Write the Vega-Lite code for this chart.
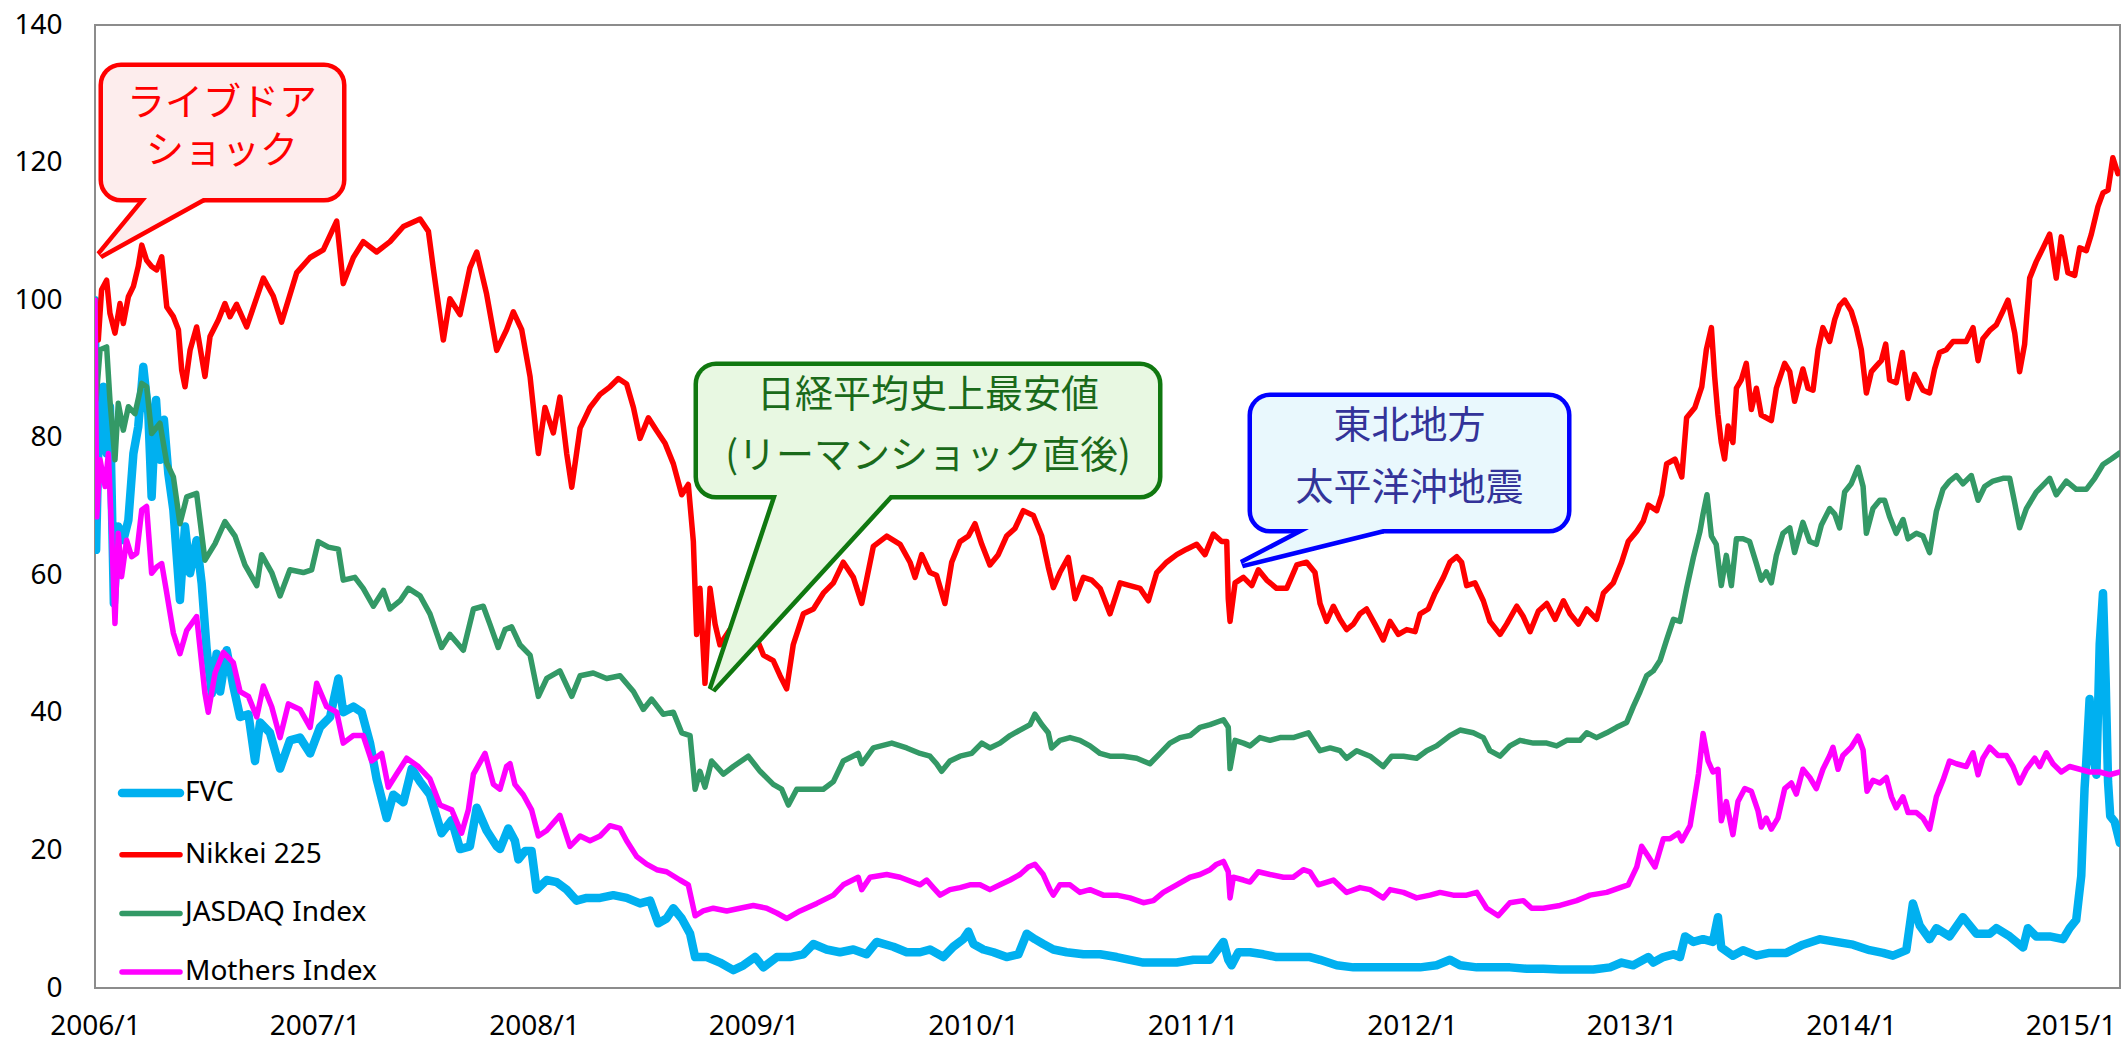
{
"$schema":"https://vega.github.io/schema/vega-lite/v6.json",
"autosize":{"type":"none"},
"padding":{"left":95,"top":25,"right":3,"bottom":60},
"width":2025,"height":963,
"background":"white",
"config":{"view":{"stroke":"#8c8c8c","strokeWidth":2},"legend":{"symbolSize":100,"labelLimit":0,"labelFontSize":28,"labelFont":"Noto Sans","labelColor":"#000000","rowPadding":30.7,"padding":0}},
"datasets":{
"fvc":[{"t":2006.0,"v":100},{"t":2006.005,"v":63.7},{"t":2006.02,"v":85.5},{"t":2006.038,"v":87.4},{"t":2006.053,"v":77.7},{"t":2006.068,"v":84.5},{"t":2006.086,"v":55.9},{"t":2006.106,"v":67.1},{"t":2006.129,"v":65.1},{"t":2006.152,"v":68.0},{"t":2006.175,"v":77.7},{"t":2006.197,"v":81.6},{"t":2006.22,"v":90.3},{"t":2006.243,"v":83.5},{"t":2006.258,"v":71.4},{"t":2006.278,"v":85.5},{"t":2006.296,"v":76.8},{"t":2006.314,"v":82.6},{"t":2006.334,"v":74.8},{"t":2006.357,"v":69.5},{"t":2006.387,"v":56.4},{"t":2006.41,"v":67.1},{"t":2006.433,"v":60.3},{"t":2006.463,"v":65.1},{"t":2006.486,"v":58.8},{"t":2006.509,"v":49.1},{"t":2006.532,"v":42.8},{"t":2006.554,"v":48.6},{"t":2006.57,"v":43.1},{"t":2006.6,"v":49.1},{"t":2006.63,"v":43.9},{"t":2006.661,"v":39.4},{"t":2006.699,"v":39.8},{"t":2006.729,"v":33.0},{"t":2006.752,"v":38.6},{"t":2006.797,"v":37.1},{"t":2006.843,"v":31.9},{"t":2006.888,"v":36.0},{"t":2006.934,"v":36.4},{"t":2006.98,"v":34.1},{"t":2007.025,"v":37.9},{"t":2007.071,"v":39.4},{"t":2007.109,"v":45.0},{"t":2007.131,"v":40.1},{"t":2007.177,"v":40.9},{"t":2007.215,"v":40.1},{"t":2007.253,"v":35.6},{"t":2007.283,"v":30.4},{"t":2007.329,"v":24.7},{"t":2007.359,"v":28.1},{"t":2007.405,"v":27.0},{"t":2007.443,"v":31.9},{"t":2007.481,"v":30.0},{"t":2007.526,"v":28.1},{"t":2007.579,"v":22.5},{"t":2007.625,"v":24.4},{"t":2007.663,"v":20.2},{"t":2007.708,"v":20.6},{"t":2007.739,"v":26.2},{"t":2007.784,"v":22.9},{"t":2007.83,"v":20.6},{"t":2007.845,"v":20.2},{"t":2007.883,"v":23.2},{"t":2007.913,"v":21.4},{"t":2007.929,"v":18.7},{"t":2007.959,"v":19.9},{"t":2007.989,"v":19.9},{"t":2008.012,"v":14.3},{"t":2008.058,"v":15.7},{"t":2008.103,"v":15.4},{"t":2008.149,"v":14.3},{"t":2008.194,"v":12.7},{"t":2008.24,"v":13.1},{"t":2008.301,"v":13.1},{"t":2008.361,"v":13.5},{"t":2008.422,"v":13.1},{"t":2008.483,"v":12.3},{"t":2008.529,"v":12.7},{"t":2008.566,"v":9.4},{"t":2008.604,"v":10.1},{"t":2008.635,"v":11.6},{"t":2008.673,"v":10.1},{"t":2008.711,"v":7.9},{"t":2008.734,"v":4.5},{"t":2008.787,"v":4.5},{"t":2008.847,"v":3.7},{"t":2008.908,"v":2.6},{"t":2008.954,"v":3.3},{"t":2009.007,"v":4.5},{"t":2009.045,"v":3.0},{"t":2009.106,"v":4.5},{"t":2009.166,"v":4.5},{"t":2009.227,"v":4.9},{"t":2009.273,"v":6.4},{"t":2009.333,"v":5.6},{"t":2009.394,"v":5.2},{"t":2009.455,"v":5.6},{"t":2009.515,"v":4.9},{"t":2009.561,"v":6.7},{"t":2009.637,"v":6.0},{"t":2009.698,"v":5.2},{"t":2009.759,"v":5.2},{"t":2009.804,"v":5.6},{"t":2009.865,"v":4.5},{"t":2009.91,"v":6.0},{"t":2009.956,"v":7.1},{"t":2009.979,"v":8.2},{"t":2010.002,"v":6.4},{"t":2010.047,"v":5.6},{"t":2010.093,"v":5.2},{"t":2010.153,"v":4.5},{"t":2010.207,"v":4.9},{"t":2010.245,"v":7.9},{"t":2010.282,"v":7.1},{"t":2010.32,"v":6.4},{"t":2010.366,"v":5.6},{"t":2010.427,"v":5.2},{"t":2010.503,"v":4.9},{"t":2010.579,"v":4.9},{"t":2010.655,"v":4.5},{"t":2010.715,"v":4.1},{"t":2010.776,"v":3.7},{"t":2010.852,"v":3.7},{"t":2010.928,"v":3.7},{"t":2011.004,"v":4.1},{"t":2011.08,"v":4.1},{"t":2011.141,"v":6.7},{"t":2011.163,"v":4.1},{"t":2011.178,"v":3.3},{"t":2011.209,"v":5.2},{"t":2011.262,"v":5.2},{"t":2011.323,"v":4.9},{"t":2011.383,"v":4.5},{"t":2011.459,"v":4.5},{"t":2011.535,"v":4.5},{"t":2011.581,"v":4.1},{"t":2011.657,"v":3.3},{"t":2011.733,"v":3.0},{"t":2011.809,"v":3.0},{"t":2011.885,"v":3.0},{"t":2011.961,"v":3.0},{"t":2012.037,"v":3.0},{"t":2012.112,"v":3.3},{"t":2012.173,"v":4.1},{"t":2012.219,"v":3.3},{"t":2012.295,"v":3.0},{"t":2012.371,"v":3.0},{"t":2012.446,"v":3.0},{"t":2012.522,"v":2.8},{"t":2012.598,"v":2.8},{"t":2012.674,"v":2.7},{"t":2012.75,"v":2.7},{"t":2012.826,"v":2.7},{"t":2012.902,"v":3.0},{"t":2012.955,"v":3.7},{"t":2013.008,"v":3.3},{"t":2013.077,"v":4.5},{"t":2013.099,"v":3.7},{"t":2013.145,"v":4.5},{"t":2013.191,"v":4.9},{"t":2013.221,"v":4.5},{"t":2013.244,"v":7.5},{"t":2013.282,"v":6.7},{"t":2013.326,"v":7.1},{"t":2013.371,"v":6.7},{"t":2013.394,"v":10.3},{"t":2013.409,"v":5.9},{"t":2013.462,"v":4.7},{"t":2013.508,"v":5.5},{"t":2013.569,"v":4.7},{"t":2013.629,"v":5.1},{"t":2013.705,"v":5.1},{"t":2013.781,"v":6.3},{"t":2013.857,"v":7.1},{"t":2013.933,"v":6.7},{"t":2014.009,"v":6.3},{"t":2014.085,"v":5.5},{"t":2014.146,"v":5.1},{"t":2014.191,"v":4.7},{"t":2014.252,"v":5.5},{"t":2014.282,"v":12.3},{"t":2014.313,"v":9.1},{"t":2014.358,"v":7.1},{"t":2014.389,"v":8.7},{"t":2014.449,"v":7.5},{"t":2014.51,"v":10.3},{"t":2014.571,"v":7.9},{"t":2014.632,"v":7.9},{"t":2014.662,"v":8.7},{"t":2014.723,"v":7.5},{"t":2014.784,"v":5.9},{"t":2014.806,"v":8.7},{"t":2014.844,"v":7.5},{"t":2014.905,"v":7.5},{"t":2014.966,"v":7.1},{"t":2014.996,"v":8.7},{"t":2015.026,"v":9.9},{"t":2015.049,"v":16.3},{"t":2015.064,"v":29.0},{"t":2015.072,"v":33.0},{"t":2015.087,"v":42.0},{"t":2015.102,"v":34.0},{"t":2015.118,"v":31.0},{"t":2015.133,"v":50.0},{"t":2015.148,"v":57.4},{"t":2015.16,"v":45.0},{"t":2015.171,"v":30.0},{"t":2015.181,"v":25.0},{"t":2015.201,"v":24.2},{"t":2015.225,"v":21.1}],
"nikkei":[{"t":2006.0,"v":100},{"t":2006.015,"v":94.2},{"t":2006.03,"v":101.5},{"t":2006.053,"v":102.9},{"t":2006.068,"v":98.1},{"t":2006.091,"v":95.2},{"t":2006.114,"v":99.5},{"t":2006.129,"v":96.6},{"t":2006.152,"v":100.5},{"t":2006.175,"v":102.0},{"t":2006.197,"v":104.9},{"t":2006.213,"v":108.0},{"t":2006.235,"v":105.8},{"t":2006.258,"v":104.9},{"t":2006.281,"v":104.4},{"t":2006.304,"v":106.3},{"t":2006.327,"v":99.0},{"t":2006.357,"v":97.6},{"t":2006.38,"v":95.7},{"t":2006.395,"v":89.8},{"t":2006.41,"v":87.4},{"t":2006.433,"v":92.7},{"t":2006.463,"v":96.1},{"t":2006.501,"v":88.9},{"t":2006.524,"v":94.7},{"t":2006.562,"v":97.1},{"t":2006.592,"v":99.5},{"t":2006.615,"v":97.6},{"t":2006.645,"v":99.4},{"t":2006.691,"v":96.1},{"t":2006.767,"v":103.2},{"t":2006.812,"v":100.6},{"t":2006.85,"v":96.8},{"t":2006.919,"v":104.0},{"t":2006.98,"v":106.2},{"t":2007.04,"v":107.3},{"t":2007.101,"v":111.5},{"t":2007.131,"v":102.4},{"t":2007.177,"v":106.2},{"t":2007.222,"v":108.5},{"t":2007.283,"v":107.0},{"t":2007.344,"v":108.5},{"t":2007.405,"v":110.7},{"t":2007.481,"v":111.8},{"t":2007.519,"v":110.0},{"t":2007.541,"v":104.7},{"t":2007.587,"v":94.2},{"t":2007.617,"v":100.2},{"t":2007.663,"v":97.9},{"t":2007.708,"v":104.7},{"t":2007.739,"v":107.0},{"t":2007.784,"v":100.9},{"t":2007.83,"v":92.7},{"t":2007.875,"v":95.7},{"t":2007.906,"v":98.3},{"t":2007.944,"v":95.7},{"t":2007.982,"v":88.9},{"t":2008.012,"v":79.9},{"t":2008.02,"v":77.7},{"t":2008.05,"v":84.4},{"t":2008.088,"v":80.7},{"t":2008.118,"v":85.9},{"t":2008.149,"v":77.7},{"t":2008.172,"v":72.8},{"t":2008.21,"v":81.4},{"t":2008.255,"v":84.4},{"t":2008.301,"v":86.3},{"t":2008.346,"v":87.4},{"t":2008.384,"v":88.6},{"t":2008.422,"v":87.8},{"t":2008.453,"v":84.4},{"t":2008.483,"v":79.9},{"t":2008.521,"v":82.9},{"t":2008.559,"v":81.0},{"t":2008.597,"v":79.2},{"t":2008.635,"v":76.2},{"t":2008.673,"v":71.7},{"t":2008.703,"v":73.2},{"t":2008.726,"v":64.9},{"t":2008.741,"v":51.4},{"t":2008.756,"v":58.1},{"t":2008.779,"v":44.3},{"t":2008.802,"v":58.1},{"t":2008.825,"v":52.9},{"t":2008.847,"v":49.9},{"t":2008.893,"v":52.1},{"t":2008.938,"v":52.9},{"t":2008.976,"v":56.6},{"t":2009.007,"v":51.4},{"t":2009.045,"v":48.4},{"t":2009.09,"v":47.6},{"t":2009.121,"v":45.4},{"t":2009.151,"v":43.5},{"t":2009.181,"v":49.9},{"t":2009.227,"v":54.4},{"t":2009.273,"v":55.1},{"t":2009.318,"v":57.4},{"t":2009.364,"v":58.9},{"t":2009.409,"v":61.9},{"t":2009.455,"v":59.7},{"t":2009.493,"v":55.9},{"t":2009.546,"v":64.2},{"t":2009.607,"v":65.7},{"t":2009.668,"v":64.5},{"t":2009.713,"v":61.9},{"t":2009.736,"v":59.7},{"t":2009.766,"v":63.0},{"t":2009.804,"v":60.4},{"t":2009.834,"v":60.0},{"t":2009.872,"v":55.9},{"t":2009.903,"v":61.9},{"t":2009.941,"v":64.9},{"t":2009.979,"v":65.7},{"t":2010.009,"v":67.5},{"t":2010.04,"v":64.5},{"t":2010.077,"v":61.5},{"t":2010.115,"v":63.0},{"t":2010.153,"v":65.7},{"t":2010.191,"v":66.8},{"t":2010.229,"v":69.4},{"t":2010.275,"v":68.7},{"t":2010.313,"v":65.7},{"t":2010.343,"v":61.2},{"t":2010.366,"v":58.2},{"t":2010.396,"v":60.4},{"t":2010.434,"v":62.6},{"t":2010.465,"v":56.6},{"t":2010.503,"v":59.7},{"t":2010.541,"v":59.3},{"t":2010.579,"v":58.1},{"t":2010.624,"v":54.4},{"t":2010.67,"v":58.9},{"t":2010.715,"v":58.5},{"t":2010.761,"v":58.1},{"t":2010.799,"v":56.3},{"t":2010.837,"v":60.4},{"t":2010.882,"v":61.9},{"t":2010.928,"v":63.0},{"t":2010.973,"v":63.8},{"t":2011.019,"v":64.5},{"t":2011.057,"v":63.0},{"t":2011.095,"v":66.0},{"t":2011.133,"v":64.9},{"t":2011.156,"v":64.9},{"t":2011.163,"v":56.6},{"t":2011.171,"v":53.3},{"t":2011.194,"v":58.9},{"t":2011.232,"v":59.7},{"t":2011.27,"v":58.5},{"t":2011.3,"v":60.8},{"t":2011.338,"v":59.3},{"t":2011.383,"v":58.1},{"t":2011.429,"v":58.1},{"t":2011.475,"v":61.5},{"t":2011.52,"v":61.9},{"t":2011.558,"v":60.4},{"t":2011.581,"v":55.9},{"t":2011.611,"v":53.3},{"t":2011.642,"v":55.5},{"t":2011.672,"v":53.6},{"t":2011.702,"v":52.1},{"t":2011.733,"v":52.9},{"t":2011.763,"v":54.4},{"t":2011.793,"v":55.1},{"t":2011.831,"v":52.9},{"t":2011.869,"v":50.6},{"t":2011.9,"v":53.3},{"t":2011.938,"v":51.4},{"t":2011.976,"v":52.1},{"t":2012.014,"v":51.8},{"t":2012.037,"v":54.4},{"t":2012.074,"v":55.1},{"t":2012.105,"v":57.4},{"t":2012.143,"v":59.7},{"t":2012.173,"v":61.9},{"t":2012.204,"v":62.7},{"t":2012.226,"v":61.9},{"t":2012.249,"v":58.5},{"t":2012.287,"v":58.9},{"t":2012.325,"v":56.3},{"t":2012.355,"v":53.3},{"t":2012.401,"v":51.4},{"t":2012.431,"v":52.9},{"t":2012.477,"v":55.5},{"t":2012.507,"v":54.0},{"t":2012.538,"v":51.8},{"t":2012.576,"v":54.8},{"t":2012.614,"v":55.9},{"t":2012.652,"v":53.6},{"t":2012.69,"v":56.3},{"t":2012.72,"v":54.4},{"t":2012.758,"v":52.9},{"t":2012.796,"v":55.1},{"t":2012.841,"v":53.6},{"t":2012.872,"v":57.4},{"t":2012.917,"v":58.9},{"t":2012.955,"v":61.9},{"t":2012.985,"v":64.9},{"t":2013.024,"v":66.4},{"t":2013.054,"v":67.9},{"t":2013.077,"v":70.2},{"t":2013.115,"v":69.4},{"t":2013.138,"v":71.7},{"t":2013.16,"v":76.2},{"t":2013.198,"v":76.9},{"t":2013.229,"v":74.3},{"t":2013.251,"v":82.9},{"t":2013.289,"v":84.4},{"t":2013.32,"v":87.4},{"t":2013.341,"v":92.8},{"t":2013.364,"v":96.0},{"t":2013.379,"v":88.8},{"t":2013.394,"v":83.3},{"t":2013.409,"v":79.3},{"t":2013.424,"v":76.9},{"t":2013.44,"v":81.7},{"t":2013.462,"v":79.3},{"t":2013.478,"v":87.2},{"t":2013.5,"v":88.4},{"t":2013.523,"v":90.8},{"t":2013.546,"v":84.1},{"t":2013.569,"v":87.2},{"t":2013.591,"v":83.3},{"t":2013.614,"v":82.9},{"t":2013.637,"v":82.5},{"t":2013.66,"v":87.2},{"t":2013.698,"v":90.8},{"t":2013.721,"v":89.6},{"t":2013.743,"v":85.3},{"t":2013.781,"v":90.0},{"t":2013.804,"v":87.2},{"t":2013.827,"v":86.9},{"t":2013.85,"v":92.8},{"t":2013.872,"v":96.0},{"t":2013.903,"v":94.0},{"t":2013.926,"v":97.2},{"t":2013.948,"v":99.2},{"t":2013.971,"v":100.0},{"t":2014.001,"v":98.4},{"t":2014.024,"v":96.0},{"t":2014.047,"v":92.8},{"t":2014.07,"v":86.5},{"t":2014.093,"v":89.6},{"t":2014.115,"v":90.4},{"t":2014.138,"v":91.2},{"t":2014.158,"v":93.6},{"t":2014.176,"v":88.4},{"t":2014.206,"v":88.0},{"t":2014.234,"v":92.4},{"t":2014.26,"v":85.7},{"t":2014.29,"v":89.2},{"t":2014.328,"v":86.9},{"t":2014.358,"v":86.5},{"t":2014.381,"v":90.0},{"t":2014.404,"v":92.4},{"t":2014.434,"v":92.8},{"t":2014.465,"v":94.0},{"t":2014.495,"v":94.0},{"t":2014.525,"v":94.0},{"t":2014.556,"v":96.0},{"t":2014.579,"v":91.2},{"t":2014.601,"v":94.4},{"t":2014.632,"v":95.6},{"t":2014.662,"v":96.4},{"t":2014.692,"v":98.4},{"t":2014.715,"v":100.0},{"t":2014.746,"v":95.2},{"t":2014.768,"v":89.6},{"t":2014.791,"v":93.6},{"t":2014.814,"v":103.2},{"t":2014.844,"v":105.6},{"t":2014.875,"v":107.6},{"t":2014.905,"v":109.6},{"t":2014.935,"v":103.2},{"t":2014.958,"v":109.2},{"t":2014.988,"v":104.0},{"t":2015.019,"v":103.6},{"t":2015.042,"v":107.6},{"t":2015.072,"v":107.2},{"t":2015.095,"v":109.6},{"t":2015.125,"v":113.6},{"t":2015.148,"v":115.6},{"t":2015.171,"v":116.0},{"t":2015.193,"v":120.7},{"t":2015.216,"v":118.4},{"t":2015.225,"v":118.6}],
"jasdaq":[{"t":2006.0,"v":100},{"t":2006.005,"v":85.5},{"t":2006.023,"v":92.8},{"t":2006.053,"v":93.2},{"t":2006.068,"v":85.5},{"t":2006.091,"v":76.8},{"t":2006.106,"v":85.0},{"t":2006.129,"v":81.1},{"t":2006.152,"v":84.5},{"t":2006.182,"v":83.5},{"t":2006.213,"v":87.9},{"t":2006.235,"v":87.4},{"t":2006.258,"v":80.6},{"t":2006.296,"v":82.1},{"t":2006.327,"v":76.3},{"t":2006.357,"v":74.3},{"t":2006.387,"v":67.5},{"t":2006.418,"v":71.4},{"t":2006.463,"v":71.9},{"t":2006.501,"v":62.2},{"t":2006.547,"v":64.6},{"t":2006.592,"v":67.8},{"t":2006.638,"v":65.7},{"t":2006.683,"v":61.5},{"t":2006.737,"v":58.5},{"t":2006.759,"v":63.0},{"t":2006.805,"v":60.4},{"t":2006.843,"v":57.0},{"t":2006.888,"v":60.8},{"t":2006.949,"v":60.4},{"t":2006.987,"v":60.8},{"t":2007.017,"v":64.9},{"t":2007.063,"v":64.1},{"t":2007.109,"v":63.8},{"t":2007.131,"v":59.3},{"t":2007.184,"v":59.7},{"t":2007.222,"v":58.1},{"t":2007.268,"v":55.5},{"t":2007.314,"v":57.8},{"t":2007.344,"v":55.1},{"t":2007.39,"v":56.3},{"t":2007.428,"v":58.1},{"t":2007.481,"v":57.0},{"t":2007.526,"v":54.4},{"t":2007.579,"v":49.5},{"t":2007.617,"v":51.4},{"t":2007.678,"v":49.1},{"t":2007.724,"v":55.1},{"t":2007.769,"v":55.5},{"t":2007.799,"v":52.9},{"t":2007.837,"v":49.5},{"t":2007.868,"v":52.1},{"t":2007.898,"v":52.5},{"t":2007.936,"v":49.9},{"t":2007.982,"v":48.4},{"t":2008.02,"v":42.4},{"t":2008.058,"v":45.0},{"t":2008.118,"v":46.1},{"t":2008.172,"v":42.4},{"t":2008.21,"v":45.4},{"t":2008.27,"v":45.8},{"t":2008.331,"v":45.0},{"t":2008.392,"v":45.4},{"t":2008.453,"v":43.1},{"t":2008.498,"v":40.5},{"t":2008.536,"v":42.0},{"t":2008.589,"v":39.8},{"t":2008.635,"v":40.1},{"t":2008.673,"v":37.1},{"t":2008.711,"v":36.7},{"t":2008.734,"v":28.9},{"t":2008.756,"v":31.5},{"t":2008.779,"v":29.2},{"t":2008.809,"v":33.0},{"t":2008.863,"v":31.1},{"t":2008.908,"v":32.2},{"t":2008.976,"v":33.7},{"t":2009.03,"v":31.5},{"t":2009.09,"v":29.6},{"t":2009.128,"v":28.9},{"t":2009.159,"v":26.6},{"t":2009.197,"v":28.9},{"t":2009.257,"v":28.9},{"t":2009.318,"v":28.9},{"t":2009.364,"v":30.0},{"t":2009.409,"v":33.0},{"t":2009.477,"v":34.1},{"t":2009.493,"v":32.6},{"t":2009.546,"v":34.9},{"t":2009.63,"v":35.6},{"t":2009.698,"v":34.9},{"t":2009.759,"v":34.1},{"t":2009.804,"v":33.7},{"t":2009.834,"v":32.6},{"t":2009.857,"v":31.5},{"t":2009.895,"v":33.0},{"t":2009.941,"v":33.7},{"t":2009.994,"v":34.1},{"t":2010.04,"v":35.6},{"t":2010.077,"v":34.9},{"t":2010.123,"v":35.6},{"t":2010.169,"v":36.7},{"t":2010.214,"v":37.5},{"t":2010.26,"v":38.3},{"t":2010.282,"v":39.8},{"t":2010.313,"v":38.3},{"t":2010.343,"v":37.1},{"t":2010.358,"v":34.9},{"t":2010.396,"v":36.0},{"t":2010.442,"v":36.4},{"t":2010.487,"v":36.0},{"t":2010.533,"v":35.2},{"t":2010.579,"v":34.1},{"t":2010.624,"v":33.7},{"t":2010.685,"v":33.7},{"t":2010.746,"v":33.4},{"t":2010.806,"v":32.6},{"t":2010.852,"v":34.1},{"t":2010.897,"v":35.6},{"t":2010.943,"v":36.4},{"t":2010.989,"v":36.7},{"t":2011.034,"v":37.9},{"t":2011.08,"v":38.3},{"t":2011.141,"v":39.0},{"t":2011.163,"v":37.9},{"t":2011.171,"v":31.9},{"t":2011.194,"v":36.0},{"t":2011.232,"v":35.6},{"t":2011.262,"v":35.2},{"t":2011.307,"v":36.4},{"t":2011.353,"v":36.0},{"t":2011.399,"v":36.4},{"t":2011.459,"v":36.4},{"t":2011.528,"v":37.1},{"t":2011.581,"v":34.5},{"t":2011.627,"v":34.9},{"t":2011.672,"v":34.5},{"t":2011.702,"v":33.4},{"t":2011.748,"v":34.5},{"t":2011.809,"v":33.7},{"t":2011.869,"v":32.2},{"t":2011.907,"v":33.7},{"t":2011.961,"v":33.7},{"t":2012.021,"v":33.4},{"t":2012.067,"v":34.5},{"t":2012.112,"v":35.2},{"t":2012.173,"v":36.7},{"t":2012.219,"v":37.5},{"t":2012.279,"v":37.1},{"t":2012.325,"v":36.4},{"t":2012.355,"v":34.5},{"t":2012.401,"v":33.7},{"t":2012.446,"v":35.2},{"t":2012.492,"v":36.0},{"t":2012.553,"v":35.6},{"t":2012.614,"v":35.6},{"t":2012.659,"v":35.2},{"t":2012.705,"v":36.0},{"t":2012.765,"v":36.0},{"t":2012.796,"v":37.1},{"t":2012.841,"v":36.4},{"t":2012.887,"v":37.1},{"t":2012.932,"v":37.9},{"t":2012.978,"v":38.6},{"t":2013.008,"v":40.9},{"t":2013.039,"v":43.1},{"t":2013.069,"v":45.4},{"t":2013.099,"v":46.1},{"t":2013.13,"v":47.6},{"t":2013.16,"v":50.6},{"t":2013.191,"v":53.6},{"t":2013.221,"v":53.3},{"t":2013.251,"v":58.1},{"t":2013.282,"v":62.6},{"t":2013.312,"v":66.4},{"t":2013.326,"v":68.9},{"t":2013.344,"v":71.7},{"t":2013.364,"v":65.7},{"t":2013.386,"v":64.5},{"t":2013.409,"v":58.5},{"t":2013.432,"v":62.9},{"t":2013.455,"v":58.5},{"t":2013.478,"v":65.3},{"t":2013.508,"v":65.3},{"t":2013.538,"v":64.9},{"t":2013.569,"v":61.7},{"t":2013.591,"v":59.3},{"t":2013.614,"v":60.5},{"t":2013.637,"v":58.9},{"t":2013.66,"v":62.9},{"t":2013.69,"v":66.1},{"t":2013.721,"v":66.9},{"t":2013.743,"v":63.3},{"t":2013.781,"v":67.7},{"t":2013.812,"v":64.9},{"t":2013.842,"v":64.5},{"t":2013.865,"v":67.3},{"t":2013.903,"v":69.7},{"t":2013.926,"v":68.9},{"t":2013.948,"v":66.9},{"t":2013.971,"v":72.1},{"t":2014.001,"v":73.3},{"t":2014.032,"v":75.7},{"t":2014.055,"v":72.9},{"t":2014.07,"v":66.1},{"t":2014.1,"v":69.7},{"t":2014.131,"v":70.9},{"t":2014.153,"v":70.9},{"t":2014.176,"v":68.5},{"t":2014.206,"v":66.1},{"t":2014.237,"v":68.1},{"t":2014.26,"v":65.3},{"t":2014.298,"v":66.1},{"t":2014.328,"v":65.7},{"t":2014.358,"v":63.3},{"t":2014.389,"v":69.3},{"t":2014.419,"v":72.5},{"t":2014.449,"v":73.7},{"t":2014.48,"v":74.5},{"t":2014.51,"v":73.3},{"t":2014.548,"v":74.5},{"t":2014.579,"v":70.9},{"t":2014.609,"v":72.9},{"t":2014.647,"v":73.7},{"t":2014.692,"v":74.1},{"t":2014.723,"v":74.1},{"t":2014.746,"v":70.5},{"t":2014.768,"v":66.9},{"t":2014.799,"v":69.7},{"t":2014.844,"v":72.1},{"t":2014.905,"v":74.1},{"t":2014.935,"v":71.7},{"t":2014.981,"v":73.7},{"t":2015.026,"v":72.5},{"t":2015.072,"v":72.5},{"t":2015.11,"v":74.1},{"t":2015.148,"v":76.1},{"t":2015.186,"v":76.9},{"t":2015.225,"v":77.8}],
"mothers":[{"t":2006.0,"v":100},{"t":2006.008,"v":68.5},{"t":2006.023,"v":76.8},{"t":2006.046,"v":72.9},{"t":2006.061,"v":77.7},{"t":2006.076,"v":66.1},{"t":2006.091,"v":53.0},{"t":2006.106,"v":66.1},{"t":2006.121,"v":59.8},{"t":2006.144,"v":65.1},{"t":2006.167,"v":62.7},{"t":2006.19,"v":63.2},{"t":2006.213,"v":69.5},{"t":2006.235,"v":70.0},{"t":2006.258,"v":60.3},{"t":2006.281,"v":61.2},{"t":2006.304,"v":61.7},{"t":2006.327,"v":57.4},{"t":2006.357,"v":51.6},{"t":2006.387,"v":48.6},{"t":2006.418,"v":52.0},{"t":2006.463,"v":54.0},{"t":2006.501,"v":42.8},{"t":2006.516,"v":40.1},{"t":2006.547,"v":45.8},{"t":2006.585,"v":48.8},{"t":2006.63,"v":47.3},{"t":2006.661,"v":43.1},{"t":2006.699,"v":42.4},{"t":2006.737,"v":39.4},{"t":2006.767,"v":43.9},{"t":2006.805,"v":40.9},{"t":2006.843,"v":36.4},{"t":2006.881,"v":41.3},{"t":2006.934,"v":40.5},{"t":2006.98,"v":37.9},{"t":2007.01,"v":44.3},{"t":2007.055,"v":40.9},{"t":2007.101,"v":40.1},{"t":2007.131,"v":35.6},{"t":2007.177,"v":36.7},{"t":2007.222,"v":36.7},{"t":2007.26,"v":33.0},{"t":2007.306,"v":34.1},{"t":2007.336,"v":29.2},{"t":2007.374,"v":31.1},{"t":2007.42,"v":33.4},{"t":2007.473,"v":32.2},{"t":2007.526,"v":30.4},{"t":2007.572,"v":26.6},{"t":2007.625,"v":25.9},{"t":2007.67,"v":22.5},{"t":2007.701,"v":25.9},{"t":2007.724,"v":31.1},{"t":2007.777,"v":34.1},{"t":2007.815,"v":29.6},{"t":2007.845,"v":28.9},{"t":2007.875,"v":32.2},{"t":2007.891,"v":32.6},{"t":2007.913,"v":29.6},{"t":2007.951,"v":28.1},{"t":2007.989,"v":25.9},{"t":2008.02,"v":22.1},{"t":2008.058,"v":22.9},{"t":2008.088,"v":24.0},{"t":2008.118,"v":25.1},{"t":2008.164,"v":20.6},{"t":2008.21,"v":22.1},{"t":2008.255,"v":21.4},{"t":2008.301,"v":22.1},{"t":2008.346,"v":23.6},{"t":2008.392,"v":23.2},{"t":2008.422,"v":21.4},{"t":2008.468,"v":19.1},{"t":2008.513,"v":18.0},{"t":2008.559,"v":17.2},{"t":2008.604,"v":16.9},{"t":2008.665,"v":15.7},{"t":2008.703,"v":15.0},{"t":2008.734,"v":10.5},{"t":2008.771,"v":11.2},{"t":2008.817,"v":11.6},{"t":2008.878,"v":11.2},{"t":2008.938,"v":11.6},{"t":2008.999,"v":12.0},{"t":2009.06,"v":11.6},{"t":2009.106,"v":10.9},{"t":2009.151,"v":10.1},{"t":2009.212,"v":11.2},{"t":2009.288,"v":12.3},{"t":2009.364,"v":13.5},{"t":2009.409,"v":15.0},{"t":2009.477,"v":16.1},{"t":2009.493,"v":14.3},{"t":2009.531,"v":16.1},{"t":2009.607,"v":16.5},{"t":2009.668,"v":16.1},{"t":2009.759,"v":15.0},{"t":2009.789,"v":15.7},{"t":2009.819,"v":14.6},{"t":2009.85,"v":13.5},{"t":2009.895,"v":14.3},{"t":2009.941,"v":14.6},{"t":2009.986,"v":15.0},{"t":2010.032,"v":15.0},{"t":2010.077,"v":14.3},{"t":2010.123,"v":15.0},{"t":2010.169,"v":15.7},{"t":2010.214,"v":16.5},{"t":2010.252,"v":17.6},{"t":2010.282,"v":18.0},{"t":2010.32,"v":16.5},{"t":2010.351,"v":14.3},{"t":2010.366,"v":13.5},{"t":2010.396,"v":15.0},{"t":2010.442,"v":15.0},{"t":2010.487,"v":13.9},{"t":2010.533,"v":14.3},{"t":2010.594,"v":13.5},{"t":2010.655,"v":13.5},{"t":2010.715,"v":13.1},{"t":2010.776,"v":12.4},{"t":2010.822,"v":12.7},{"t":2010.867,"v":13.9},{"t":2010.928,"v":15.0},{"t":2010.989,"v":16.1},{"t":2011.034,"v":16.5},{"t":2011.08,"v":17.2},{"t":2011.11,"v":18.0},{"t":2011.141,"v":18.4},{"t":2011.163,"v":16.9},{"t":2011.171,"v":13.1},{"t":2011.186,"v":16.1},{"t":2011.232,"v":15.7},{"t":2011.262,"v":15.4},{"t":2011.3,"v":16.9},{"t":2011.353,"v":16.5},{"t":2011.414,"v":16.1},{"t":2011.459,"v":16.1},{"t":2011.505,"v":17.2},{"t":2011.535,"v":16.9},{"t":2011.573,"v":15.0},{"t":2011.642,"v":15.7},{"t":2011.702,"v":13.9},{"t":2011.763,"v":14.6},{"t":2011.809,"v":14.3},{"t":2011.869,"v":13.1},{"t":2011.9,"v":14.3},{"t":2011.961,"v":13.9},{"t":2012.021,"v":13.1},{"t":2012.082,"v":13.5},{"t":2012.128,"v":13.9},{"t":2012.188,"v":13.5},{"t":2012.249,"v":13.5},{"t":2012.295,"v":13.9},{"t":2012.34,"v":11.6},{"t":2012.393,"v":10.5},{"t":2012.446,"v":12.4},{"t":2012.507,"v":12.7},{"t":2012.545,"v":11.6},{"t":2012.598,"v":11.6},{"t":2012.674,"v":12.0},{"t":2012.75,"v":12.7},{"t":2012.811,"v":13.5},{"t":2012.887,"v":13.9},{"t":2012.948,"v":14.6},{"t":2012.985,"v":15.0},{"t":2013.024,"v":17.6},{"t":2013.046,"v":20.6},{"t":2013.077,"v":19.1},{"t":2013.107,"v":17.6},{"t":2013.145,"v":21.7},{"t":2013.175,"v":21.7},{"t":2013.213,"v":22.5},{"t":2013.229,"v":21.4},{"t":2013.267,"v":23.6},{"t":2013.305,"v":31.1},{"t":2013.326,"v":37.0},{"t":2013.349,"v":33.0},{"t":2013.371,"v":31.4},{"t":2013.394,"v":31.8},{"t":2013.409,"v":24.3},{"t":2013.432,"v":27.1},{"t":2013.462,"v":22.3},{"t":2013.485,"v":27.1},{"t":2013.516,"v":29.0},{"t":2013.546,"v":28.6},{"t":2013.576,"v":25.8},{"t":2013.591,"v":23.4},{"t":2013.614,"v":24.7},{"t":2013.637,"v":23.1},{"t":2013.667,"v":24.7},{"t":2013.698,"v":29.0},{"t":2013.728,"v":29.8},{"t":2013.751,"v":28.2},{"t":2013.781,"v":31.8},{"t":2013.812,"v":30.6},{"t":2013.842,"v":29.0},{"t":2013.872,"v":31.8},{"t":2013.903,"v":33.8},{"t":2013.918,"v":35.0},{"t":2013.941,"v":31.8},{"t":2013.963,"v":33.8},{"t":2014.001,"v":35.0},{"t":2014.032,"v":36.6},{"t":2014.055,"v":34.6},{"t":2014.073,"v":28.6},{"t":2014.1,"v":30.2},{"t":2014.131,"v":29.8},{"t":2014.161,"v":30.6},{"t":2014.184,"v":27.8},{"t":2014.206,"v":26.2},{"t":2014.237,"v":27.8},{"t":2014.26,"v":25.5},{"t":2014.298,"v":25.5},{"t":2014.328,"v":24.7},{"t":2014.358,"v":23.1},{"t":2014.389,"v":27.8},{"t":2014.419,"v":30.2},{"t":2014.449,"v":33.0},{"t":2014.48,"v":32.6},{"t":2014.525,"v":32.2},{"t":2014.556,"v":34.2},{"t":2014.579,"v":31.0},{"t":2014.601,"v":33.4},{"t":2014.632,"v":35.0},{"t":2014.67,"v":33.8},{"t":2014.708,"v":33.8},{"t":2014.738,"v":32.2},{"t":2014.768,"v":29.8},{"t":2014.799,"v":31.8},{"t":2014.837,"v":33.4},{"t":2014.86,"v":32.2},{"t":2014.89,"v":34.2},{"t":2014.92,"v":32.6},{"t":2014.958,"v":31.4},{"t":2014.996,"v":32.2},{"t":2015.042,"v":31.8},{"t":2015.087,"v":31.4},{"t":2015.133,"v":31.4},{"t":2015.178,"v":31.0},{"t":2015.225,"v":31.4}]
},
"encoding":{
"x":{"field":"t","type":"quantitative","scale":{"domain":[2006,2015.2255],"nice":false,"zero":false},"axis":{"values":[2006,2007,2008,2009,2010,2011,2012,2013,2014,2015],"labelExpr":"datum.value + '/1'","title":null,"grid":false,"ticks":false,"tickSize":0,"domain":false,"labelFontSize":28,"labelFont":"Noto Sans","labelColor":"#000000","labelPadding":24,"labelFlush":false,"labelOverlap":false,"labelBound":false}},
"y":{"field":"v","type":"quantitative","scale":{"domain":[0,140],"nice":false,"zero":true},"axis":{"values":[0,20,40,60,80,100,120,140],"title":null,"grid":false,"ticks":false,"tickSize":0,"domain":false,"labelFontSize":28,"labelFont":"Noto Sans","labelColor":"#000000","labelPadding":33}}
},
"layer":[
{"data":{"name":"fvc"},"mark":{"type":"line","strokeWidth":8.5,"strokeJoin":"round","strokeCap":"round","clip":true},
 "encoding":{"color":{"datum":"FVC","type":"nominal","scale":{"domain":["FVC","Nikkei 225","JASDAQ Index","Mothers Index"],"range":["#00B0F0","#FF0000","#339966","#FF00FF"]},
 "legend":{"title":null,"orient":"none","legendX":22,"legendY":754,"symbolType":"M-5.8,0H5.8","symbolSize":100,"symbolStrokeWidth":5.5,"symbolOffset":20,"labelOffset":20,"labelLimit":0,"labelFontSize":28,"labelFont":"Noto Sans","labelColor":"#000000","rowPadding":30.7,"padding":0,"direction":"vertical","encode":{"symbols":{"update":{"strokeWidth":{"signal":"datum.value === 'FVC' ? 8.5 : 5.5"},"strokeCap":{"value":"round"}}}}}}}},
{"data":{"name":"nikkei"},"mark":{"type":"line","strokeWidth":5.5,"strokeJoin":"round","strokeCap":"round","clip":true},"encoding":{"color":{"datum":"Nikkei 225","type":"nominal",
 "legend":{"title":null,"orient":"none","legendX":22,"legendY":754,"symbolType":"M-5.8,0H5.8","symbolSize":100,"symbolStrokeWidth":5.5,"symbolOffset":20,"labelOffset":20,"labelLimit":0,"labelFontSize":28,"labelFont":"Noto Sans","labelColor":"#000000","rowPadding":30.7,"padding":0,"direction":"vertical"}}}},
{"data":{"name":"jasdaq"},"mark":{"type":"line","strokeWidth":5.5,"strokeJoin":"round","strokeCap":"round","clip":true},"encoding":{"color":{"datum":"JASDAQ Index","type":"nominal",
 "legend":{"title":null,"orient":"none","legendX":22,"legendY":754,"symbolType":"M-5.8,0H5.8","symbolSize":100,"symbolStrokeWidth":5.5,"symbolOffset":20,"labelOffset":20,"labelLimit":0,"labelFontSize":28,"labelFont":"Noto Sans","labelColor":"#000000","rowPadding":30.7,"padding":0,"direction":"vertical"}}}},
{"data":{"name":"mothers"},"mark":{"type":"line","strokeWidth":5.5,"strokeJoin":"round","strokeCap":"round","clip":true},"encoding":{"color":{"datum":"Mothers Index","type":"nominal",
 "legend":{"title":null,"orient":"none","legendX":22,"legendY":754,"symbolType":"M-5.8,0H5.8","symbolSize":100,"symbolStrokeWidth":5.5,"symbolOffset":20,"labelOffset":20,"labelLimit":0,"labelFontSize":28,"labelFont":"Noto Sans","labelColor":"#000000","rowPadding":30.7,"padding":0,"direction":"vertical"}}}},

{"data":{"values":[{"t":2006.0364,"t2":2007.1253,"v":133.89,"v2":114.84}]},"mark":{"type":"rect","filled":false,"stroke":"#FF0000","strokeWidth":9,"cornerRadius":18},"encoding":{"x2":{"field":"t2"},"y2":{"field":"v2"}}},
{"data":{"values":[{"t":2006.0228,"t2":2006.0228,"v":106.56},{"t":2006.2369,"t2":2006.492,"v":114.84}]},"mark":{"type":"area","orient":"horizontal","fill":"transparent","stroke":"#FF0000","strokeWidth":9,"strokeJoin":"miter"},"encoding":{"x":{"field":"t","type":"quantitative","stack":null},"x2":{"field":"t2"}}},
{"data":{"values":[{"t":2008.7472,"t2":2010.8428,"v":90.42,"v2":71.67}]},"mark":{"type":"rect","filled":false,"stroke":"#107810","strokeWidth":9,"cornerRadius":18},"encoding":{"x2":{"field":"t2"},"y2":{"field":"v2"}}},
{"data":{"values":[{"t":2008.8109,"t2":2008.8109,"v":43.4},{"t":2009.1071,"t2":2009.6219,"v":71.67}]},"mark":{"type":"area","orient":"horizontal","fill":"transparent","stroke":"#107810","strokeWidth":9,"strokeJoin":"miter"},"encoding":{"x":{"field":"t","type":"quantitative","stack":null},"x2":{"field":"t2"}}},
{"data":{"values":[{"t":2011.2711,"t2":2012.7062,"v":85.91,"v2":66.72}]},"mark":{"type":"rect","filled":false,"stroke":"#0000FF","strokeWidth":9,"cornerRadius":18},"encoding":{"x2":{"field":"t2"},"y2":{"field":"v2"}}},
{"data":{"values":[{"t":2011.2255,"t2":2011.2255,"v":61.64},{"t":2011.5308,"t2":2011.8679,"v":66.72}]},"mark":{"type":"area","orient":"horizontal","fill":"transparent","stroke":"#0000FF","strokeWidth":9,"strokeJoin":"miter"},"encoding":{"x":{"field":"t","type":"quantitative","stack":null},"x2":{"field":"t2"}}},

{"data":{"values":[{"t":2006.0364,"t2":2007.1253,"v":133.89,"v2":114.84}]},"mark":{"type":"rect","fill":"#FDEDED","strokeWidth":0,"cornerRadius":18},"encoding":{"x2":{"field":"t2"},"y2":{"field":"v2"}}},
{"data":{"values":[{"t":2006.0228,"t2":2006.0228,"v":106.56},{"t":2006.2369,"t2":2006.492,"v":114.84}]},"mark":{"type":"area","orient":"horizontal","fill":"#FDEDED","strokeWidth":0},"encoding":{"x":{"field":"t","type":"quantitative","stack":null},"x2":{"field":"t2"}}},
{"data":{"values":[{"t":2008.7472,"t2":2010.8428,"v":90.42,"v2":71.67}]},"mark":{"type":"rect","fill":"#E8F8E2","strokeWidth":0,"cornerRadius":18},"encoding":{"x2":{"field":"t2"},"y2":{"field":"v2"}}},
{"data":{"values":[{"t":2008.8109,"t2":2008.8109,"v":43.4},{"t":2009.1071,"t2":2009.6219,"v":71.67}]},"mark":{"type":"area","orient":"horizontal","fill":"#E8F8E2","strokeWidth":0},"encoding":{"x":{"field":"t","type":"quantitative","stack":null},"x2":{"field":"t2"}}},
{"data":{"values":[{"t":2011.2711,"t2":2012.7062,"v":85.91,"v2":66.72}]},"mark":{"type":"rect","fill":"#E9F8FD","strokeWidth":0,"cornerRadius":18},"encoding":{"x2":{"field":"t2"},"y2":{"field":"v2"}}},
{"data":{"values":[{"t":2011.2255,"t2":2011.2255,"v":61.64},{"t":2011.5308,"t2":2011.8679,"v":66.72}]},"mark":{"type":"area","orient":"horizontal","fill":"#E9F8FD","strokeWidth":0},"encoding":{"x":{"field":"t","type":"quantitative","stack":null},"x2":{"field":"t2"}}},

{"data":{"values":[{"t":2006.5786,"v":128.5,"label":"ライブドア"},{"t":2006.5786,"v":121.5,"label":"ショック"}]},"mark":{"type":"text","font":"Noto Sans CJK JP","fontSize":38,"color":"#FF0000","align":"center","baseline":"middle"},"encoding":{"text":{"field":"label"}}},
{"data":{"values":[{"t":2009.795,"v":86.0,"label":"日経平均史上最安値"},{"t":2009.795,"v":77.2,"label":"(リーマンショック直後)"}]},"mark":{"type":"text","font":"Noto Sans CJK JP","fontSize":38,"color":"#1A6A1A","align":"center","baseline":"middle"},"encoding":{"text":{"field":"label"}}},
{"data":{"values":[{"t":2011.9887,"v":81.5,"label":"東北地方"},{"t":2011.9887,"v":72.5,"label":"太平洋沖地震"}]},"mark":{"type":"text","font":"Noto Sans CJK JP","fontSize":38,"color":"#333399","align":"center","baseline":"middle"},"encoding":{"text":{"field":"label"}}}
]
}
